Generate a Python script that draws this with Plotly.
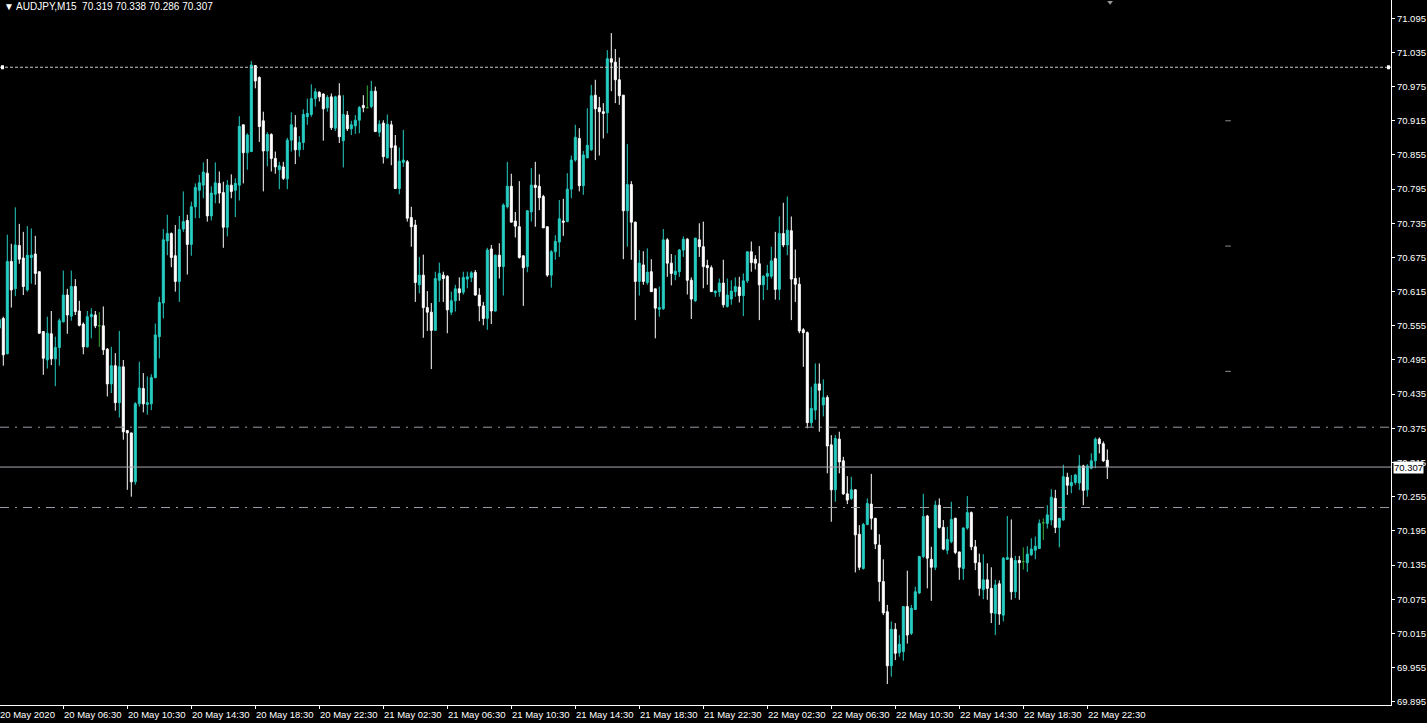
import plotly.graph_objects as go

# ---------------- data (AUDJPY M15, 20 May 02:30 .. 22 May 23:45) ----------------
opens = [70.551,70.568,70.506,70.668,70.620,70.696,70.674,70.618,70.675,70.681,
70.650,70.545,70.495,70.541,70.497,70.517,70.562,70.609,70.572,70.624,
70.581,70.558,70.518,70.571,70.574,70.555,70.555,70.514,70.453,70.485,
70.420,70.483,70.371,70.367,70.281,70.418,70.445,70.417,70.418,70.464,
70.536,70.595,70.704,70.717,70.678,70.633,70.725,70.740,70.698,70.764,
70.793,70.802,70.823,70.748,70.786,70.805,70.789,70.728,70.802,70.793,
70.802,70.908,70.859,70.861,71.012,70.991,70.915,70.862,70.891,70.849,
70.829,70.834,70.813,70.881,70.903,70.864,70.877,70.922,70.926,70.954,
70.965,70.962,70.938,70.957,70.902,70.959,70.880,70.925,70.901,70.906,
70.916,70.942,70.938,70.940,70.967,70.895,70.911,70.850,70.908,70.871,
70.796,70.842,70.843,70.745,70.732,70.627,70.644,70.587,70.579,70.547,
70.635,70.644,70.642,70.579,70.599,70.620,70.614,70.637,70.640,70.649,
70.609,70.590,70.568,70.690,70.581,70.679,70.659,70.764,70.800,70.739,
70.729,70.678,70.659,70.755,70.802,70.800,70.782,70.729,70.644,70.685,
70.702,70.739,70.738,70.795,70.846,70.884,70.801,70.850,70.864,70.960,
70.938,70.931,70.929,71.024,71.018,70.987,70.960,70.757,70.803,70.737,
70.633,70.662,70.631,70.650,70.620,70.584,70.585,70.706,70.665,70.645,
70.650,70.688,70.707,70.635,70.599,70.706,70.694,70.661,70.657,70.613,
70.615,70.630,70.589,70.602,70.615,70.623,70.608,70.634,70.685,70.672,
70.664,70.627,70.642,70.642,70.673,70.619,70.717,70.697,70.722,70.638,
70.628,70.548,70.543,70.385,70.407,70.453,70.416,70.429,70.346,70.267,
70.356,70.318,70.260,70.252,70.267,70.189,70.129,70.206,70.242,70.217,
70.170,70.106,70.053,69.958,70.022,69.981,69.983,70.062,70.015,70.057,
70.086,70.150,70.221,70.145,70.131,70.240,70.201,70.161,70.176,70.217,
70.158,70.129,70.200,70.227,70.167,70.139,70.092,70.109,70.094,70.050,
70.102,70.047,70.145,70.147,70.088,70.143,70.141,70.139,70.153,70.161,
70.164,70.209,70.208,70.214,70.252,70.201,70.214,70.289,70.274,70.280,
70.279,70.309,70.267,70.305,70.318,70.356,70.348,70.319]
highs = [70.570,70.571,70.715,70.699,70.763,70.734,70.720,70.730,70.726,70.713,
70.650,70.545,70.571,70.581,70.536,70.568,70.652,70.620,70.652,70.637,
70.599,70.561,70.581,70.586,70.581,70.579,70.589,70.516,70.518,70.507,
70.546,70.495,70.372,70.367,70.421,70.492,70.472,70.466,70.470,70.559,
70.606,70.725,70.750,70.719,70.732,70.748,70.791,70.750,70.773,70.805,
70.820,70.842,70.848,70.800,70.842,70.826,70.808,70.811,70.821,70.814,
70.923,70.908,70.893,71.020,71.013,70.993,70.931,70.895,70.893,70.861,
70.843,70.843,70.885,70.930,70.925,70.888,70.935,70.954,70.979,70.972,
70.967,70.963,70.960,70.963,70.959,70.981,70.960,70.932,70.915,70.925,
70.941,70.960,70.977,70.985,70.975,70.916,70.916,70.926,70.915,70.890,
70.868,70.899,70.846,70.764,70.741,70.676,70.680,70.616,70.595,70.650,
70.666,70.650,70.644,70.615,70.627,70.640,70.650,70.650,70.651,70.653,
70.621,70.597,70.692,70.697,70.680,70.700,70.770,70.843,70.822,70.755,
70.809,70.678,70.758,70.832,70.843,70.821,70.785,70.729,70.688,70.714,
70.776,70.778,70.823,70.854,70.908,70.902,70.862,70.937,70.978,70.987,
70.957,70.946,71.039,71.069,71.041,71.026,70.960,70.874,70.809,70.738,
70.688,70.686,70.691,70.672,70.620,70.624,70.725,70.709,70.681,70.679,
70.690,70.712,70.709,70.640,70.709,70.735,70.738,70.671,70.661,70.617,
70.638,70.671,70.638,70.635,70.640,70.641,70.647,70.685,70.703,70.679,
70.695,70.644,70.662,70.694,70.720,70.747,70.771,70.782,70.747,70.689,
70.640,70.551,70.545,70.448,70.489,70.489,70.461,70.433,70.363,70.363,
70.369,70.325,70.291,70.290,70.268,70.205,70.209,70.252,70.295,70.217,
70.189,70.145,70.065,70.036,70.033,70.012,70.062,70.125,70.065,70.097,
70.151,70.260,70.223,70.167,70.248,70.252,70.214,70.202,70.246,70.218,
70.158,70.201,70.256,70.229,70.179,70.155,70.154,70.138,70.131,70.109,
70.108,70.149,70.221,70.215,70.151,70.151,70.166,70.168,70.182,70.185,
70.215,70.217,70.240,70.268,70.267,70.217,70.311,70.297,70.293,70.295,
70.328,70.311,70.312,70.331,70.359,70.359,70.352,70.338]
lows = [70.548,70.485,70.505,70.587,70.607,70.664,70.609,70.615,70.629,70.627,
70.541,70.469,70.480,70.486,70.449,70.485,70.561,70.541,70.564,70.574,
70.554,70.505,70.517,70.533,70.551,70.518,70.504,70.431,70.437,70.406,
70.394,70.355,70.267,70.255,70.276,70.413,70.403,70.399,70.407,70.463,
70.498,70.568,70.679,70.658,70.615,70.597,70.720,70.645,70.678,70.744,
70.744,70.779,70.738,70.740,70.770,70.770,70.692,70.712,70.779,70.746,
70.775,70.805,70.829,70.860,70.972,70.878,70.791,70.835,70.826,70.822,
70.795,70.811,70.795,70.861,70.839,70.852,70.864,70.908,70.922,70.940,
70.949,70.880,70.931,70.899,70.897,70.876,70.833,70.897,70.890,70.892,
70.893,70.930,70.938,70.937,70.896,70.887,70.840,70.849,70.837,70.796,
70.786,70.834,70.738,70.694,70.597,70.612,70.534,70.546,70.479,70.546,
70.597,70.597,70.542,70.574,70.580,70.599,70.610,70.621,70.632,70.608,
70.563,70.556,70.548,70.558,70.580,70.638,70.608,70.761,70.737,70.710,
70.673,70.590,70.649,70.738,70.729,70.758,70.727,70.641,70.622,70.671,
70.676,70.713,70.737,70.779,70.843,70.791,70.785,70.849,70.862,70.846,
70.854,70.884,70.893,70.967,70.946,70.943,70.672,70.694,70.671,70.565,
70.608,70.627,70.627,70.615,70.533,70.571,70.583,70.641,70.626,70.635,
70.641,70.676,70.610,70.567,70.597,70.676,70.621,70.627,70.615,70.606,
70.606,70.587,70.587,70.592,70.606,70.596,70.572,70.630,70.650,70.654,
70.565,70.600,70.618,70.638,70.601,70.600,70.693,70.679,70.565,70.597,
70.542,70.483,70.375,70.377,70.390,70.369,70.396,70.296,70.211,70.246,
70.296,70.258,70.242,70.249,70.122,70.126,70.127,70.205,70.197,70.163,
70.071,70.047,69.926,69.939,69.968,69.974,69.967,69.997,70.012,70.056,
70.084,70.147,70.094,70.072,70.126,70.199,70.161,70.154,70.173,70.154,
70.109,70.109,70.197,70.161,70.126,70.081,70.075,70.074,70.033,70.012,
70.030,70.036,70.144,70.074,70.077,70.074,70.127,70.123,70.151,70.145,
70.163,70.179,70.199,70.205,70.191,70.166,70.213,70.258,70.261,70.276,
70.267,70.240,70.255,70.303,70.305,70.331,70.316,70.286]
closes = [70.566,70.504,70.668,70.618,70.697,70.672,70.624,70.679,70.679,70.647,
70.542,70.498,70.542,70.497,70.517,70.564,70.609,70.574,70.624,70.580,
70.556,70.518,70.571,70.575,70.555,70.555,70.513,70.453,70.485,70.420,
70.483,70.369,70.367,70.281,70.418,70.446,70.418,70.420,70.464,70.539,
70.596,70.706,70.717,70.675,70.633,70.724,70.738,70.698,70.764,70.798,
70.806,70.825,70.748,70.788,70.806,70.788,70.728,70.802,70.791,70.805,
70.905,70.859,70.890,71.013,70.985,70.905,70.862,70.891,70.849,70.834,
70.836,70.814,70.881,70.908,70.864,70.877,70.926,70.928,70.954,70.966,
70.957,70.936,70.956,70.903,70.957,70.887,70.926,70.901,70.908,70.916,
70.938,70.938,70.938,70.967,70.896,70.909,70.852,70.909,70.868,70.796,
70.844,70.846,70.744,70.729,70.631,70.644,70.587,70.579,70.547,70.638,
70.647,70.638,70.583,70.599,70.620,70.613,70.640,70.641,70.648,70.609,
70.590,70.568,70.688,70.581,70.679,70.659,70.767,70.800,70.737,70.730,
70.675,70.657,70.757,70.802,70.798,70.780,70.727,70.644,70.685,70.703,
70.743,70.737,70.795,70.846,70.886,70.801,70.855,70.872,70.959,70.936,
70.931,70.928,71.024,71.018,70.987,70.959,70.757,70.803,70.737,70.633,
70.665,70.633,70.649,70.615,70.586,70.587,70.706,70.665,70.647,70.651,
70.688,70.707,70.635,70.602,70.709,70.694,70.659,70.657,70.615,70.616,
70.630,70.592,70.609,70.616,70.624,70.608,70.634,70.685,70.666,70.665,
70.627,70.642,70.647,70.669,70.619,70.717,70.697,70.723,70.637,70.628,
70.546,70.543,70.385,70.410,70.453,70.442,70.429,70.344,70.267,70.357,
70.316,70.260,70.249,70.267,70.188,70.131,70.206,70.243,70.217,70.172,
70.106,70.051,69.958,70.022,69.980,69.996,70.062,70.012,70.059,70.088,
70.150,70.220,70.147,70.131,70.240,70.201,70.163,70.180,70.215,70.157,
70.131,70.200,70.227,70.167,70.139,70.094,70.109,70.094,70.051,70.100,
70.049,70.147,70.148,70.088,70.143,70.139,70.141,70.154,70.163,70.168,
70.208,70.209,70.223,70.254,70.201,70.217,70.290,70.275,70.280,70.293,
70.309,70.266,70.309,70.318,70.356,70.348,70.318,70.307]

time_labels = ["20 May 2020", "20 May 06:30", "20 May 10:30", "20 May 14:30",
               "20 May 18:30", "20 May 22:30", "21 May 02:30", "21 May 06:30",
               "21 May 10:30", "21 May 14:30", "21 May 18:30", "21 May 22:30",
               "22 May 02:30", "22 May 06:30", "22 May 10:30", "22 May 14:30",
               "22 May 18:30", "22 May 22:30"]
bars_per_label = 16

price_ticks_start = 69.895
price_tick_step = 0.06
y_range = [69.8892, 71.1271]
x_range = [0.175, 347.925]

title_text = "AUDJPY,M15  70.319 70.338 70.286 70.307"
last_price = 70.307
level_dotted = 71.009
levels_dashdot = [70.377, 70.236]
# small grey markers drawn in the empty right part of the chart
marker_bar = 307.2
marker_prices = [70.915, 70.695, 70.475]
# chart-shift marker at the top edge
shift_marker_bar = 277.7
shift_marker_price = 71.123

CYAN = "#27cdc2"
WHITE = "#ffffff"
DOJI = "#3aa83a"
LINE_GRAY = "#9a9aa6"
FONT = "Liberation Sans, Arial, sans-serif"

# ---------------- figure ----------------
idx = list(range(len(opens)))
normal = [i for i in idx if opens[i] != closes[i]]
doji = [i for i in idx if opens[i] == closes[i]]

fig = go.Figure()

def add_candles(sel, inc_col, dec_col):
    fig.add_trace(go.Candlestick(
        x=sel,
        open=[opens[i] for i in sel], high=[highs[i] for i in sel],
        low=[lows[i] for i in sel], close=[closes[i] for i in sel],
        increasing=dict(line=dict(color=inc_col, width=1), fillcolor=inc_col),
        decreasing=dict(line=dict(color=dec_col, width=1), fillcolor=dec_col),
        whiskerwidth=0, showlegend=False, hoverinfo="skip"))

add_candles(normal, CYAN, WHITE)
add_candles(doji, DOJI, DOJI)

# small grey markers
fig.add_trace(go.Scatter(x=[marker_bar] * len(marker_prices), y=marker_prices, mode="markers",
                         marker=dict(symbol="line-ew", size=4, line=dict(color="#8c8c8c", width=1)),
                         showlegend=False, hoverinfo="skip"))
fig.add_trace(go.Scatter(x=[shift_marker_bar], y=[shift_marker_price], mode="markers",
                         marker=dict(symbol="triangle-down", size=5, color="#9a9a9a"),
                         cliponaxis=False, showlegend=False, hoverinfo="skip"))

# horizontal levels
fig.add_hline(y=level_dotted, line=dict(color="#c8c8c8", width=1, dash="3px,2px"))
for lv in levels_dashdot:
    fig.add_hline(y=lv, line=dict(color=LINE_GRAY, width=1, dash="9px,6px,2px,6px"))
fig.add_hline(y=last_price, line=dict(color="#a8a8b4", width=1))

# handles on the dotted line
for xa in (0, 1):
    fig.add_shape(type="rect", xref="paper", yref="y", xsizemode="pixel", ysizemode="pixel",
                  xanchor=xa, yanchor=level_dotted,
                  x0=(1 if xa == 0 else -4), x1=(4 if xa == 0 else -1), y0=-2, y1=2,
                  fillcolor="white", line=dict(width=0))

# x labels (MT4 style: text starts at the tick)
tick_pos = [k * bars_per_label for k in range(len(time_labels))]
for k, (pos, lab) in enumerate(zip(tick_pos, time_labels)):
    if k == 0:
        # first tick lies just left of the visible range
        fig.add_annotation(x=0, xref="paper", y=0, yref="paper", text=lab, showarrow=False,
                           xanchor="left", yanchor="top", yshift=-2, xshift=-2,
                           font=dict(family=FONT, size=9.5, color="white"))
    else:
        fig.add_annotation(x=pos, xref="x", y=0, yref="paper", text=lab, showarrow=False,
                           xanchor="left", yanchor="top", yshift=-2, xshift=-1,
                           font=dict(family=FONT, size=9.5, color="white"))

# title
fig.add_annotation(x=0, xref="paper", y=1, yref="paper", text="\u25BC " + title_text,
                   showarrow=False, xanchor="left", yanchor="top", xshift=2, yshift=1,
                   font=dict(family=FONT, size=10, color="white"))

# current price box on the axis
fig.add_annotation(x=1, xref="paper", y=last_price, yref="y", text="%.3f" % last_price,
                   showarrow=False, xanchor="left", yanchor="middle", xshift=2,
                   bgcolor="white", borderpad=0,
                   font=dict(family=FONT, size=9.5, color="black"))

fig.update_layout(
    width=1427, height=723,
    margin=dict(l=0, r=36, t=0, b=18, autoexpand=False),
    paper_bgcolor="black", plot_bgcolor="black",
    boxgap=0.5, boxgroupgap=0,
    font=dict(family=FONT, size=9.5, color="white"),
    xaxis=dict(range=x_range, rangeslider=dict(visible=False), showgrid=False, zeroline=False,
               showline=True, linecolor="white", linewidth=1,
               tickmode="array", tickvals=tick_pos, showticklabels=False,
               ticks="outside", ticklen=3, tickcolor="white"),
    yaxis=dict(range=y_range, side="right", showgrid=False, zeroline=False,
               showline=True, linecolor="white", linewidth=1,
               tickmode="linear", tick0=price_ticks_start, dtick=price_tick_step,
               tickformat=".3f", ticks="outside", ticklen=3, tickcolor="white",
               tickfont=dict(family=FONT, size=9.5, color="white")),
    hovermode=False,
)

fig.write_html("out.html", config={"staticPlot": True},
               post_script="document.body.style.margin='0';document.body.style.overflow='hidden';")
